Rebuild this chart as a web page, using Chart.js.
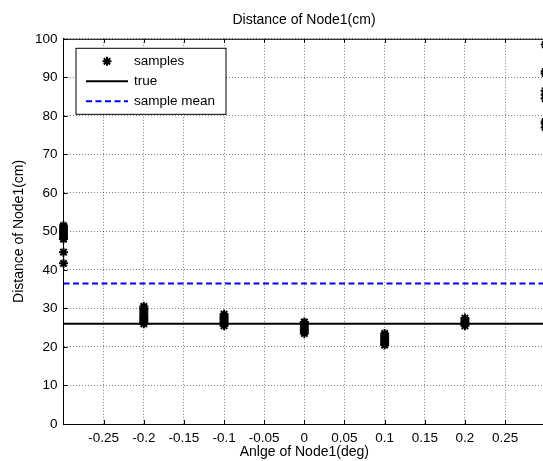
<!DOCTYPE html>
<html><head><meta charset="utf-8">
<script src="https://cdn.jsdelivr.net/npm/chart.js@4.4.1/dist/chart.umd.min.js"></script>
<style>
html,body{margin:0;padding:0;background:#fff;overflow:hidden;width:543px;height:461px;}
#wrap{position:absolute;left:0;top:0;width:608px;height:461px;}
canvas{display:block;}
</style></head><body>
<div id="wrap"><canvas id="c" width="608" height="461"></canvas></div>
<script>
const chartTitle = 'Distance of Node1(cm)';
const xTitle = 'Anlge of Node1(deg)';
const yTitle = 'Distance of Node1(cm)';
const legendLabels = ['samples', 'true', 'sample mean'];

const angles = [-0.3, -0.2, -0.1, 0, 0.1, 0.2, 0.3];
const samplesAtM03 = [51.5, 51, 50.5, 50, 49.5, 49, 48.5, 48, 44.6, 41.7];
const samplesAtM02 = [30.5, 30, 29.5, 29, 28.5, 28, 27.5, 27, 26.5, 26];
const samplesAtM01 = [28.5, 28, 27.5, 27, 26.5, 26, 25.5];
const samplesAt0   = [26.5, 26, 25.5, 25, 24.5, 24, 23.5];
const samplesAtP01 = [23.5, 23, 22.5, 22, 21.5, 21, 20.5];
const samplesAtP02 = [27.5, 27, 26.5, 26, 25.5];
const samplesAtP03 = [98.5, 91.5, 91, 86.5, 85.5, 84.5, 78.5, 78, 77];

const trueDistance = 26;
const sampleMean = 36.5;

const xRange = [-0.3, 0.3];
const yRange = [0, 100];
const xTickValues = [-0.25, -0.2, -0.15, -0.1, -0.05, 0, 0.05, 0.1, 0.15, 0.2, 0.25];
const xTickLabels = ['-0.25', '-0.2', '-0.15', '-0.1', '-0.05', '0', '0.05', '0.1', '0.15', '0.2', '0.25'];
const yTickValues = [0, 10, 20, 30, 40, 50, 60, 70, 80, 90, 100];
const yTickLabels = ['0', '10', '20', '30', '40', '50', '60', '70', '80', '90', '100'];

const sampleGroups = [samplesAtM03, samplesAtM02, samplesAtM01, samplesAt0, samplesAtP01, samplesAtP02, samplesAtP03];
const samplePoints = [];
sampleGroups.forEach((g, i) => g.forEach(v => samplePoints.push({x: angles[i], y: v})));

const FONT = "'Liberation Sans', Arial, Helvetica, sans-serif";

const frameAndLegend = {
  id: 'frameAndLegend',
  afterDatasetsDraw(chart) {
    const {ctx, chartArea: a, scales} = chart;
    const xs = scales.x, ys = scales.y;
    ctx.save();
    ctx.strokeStyle = '#000';
    ctx.lineWidth = 1;
    ctx.beginPath();
    ctx.moveTo(a.left, a.top + 0.5); ctx.lineTo(a.right, a.top + 0.5);
    const tl = 4;
    xTickValues.forEach(v => {
      const px = Math.round(xs.getPixelForValue(v)) + 0.5;
      ctx.moveTo(px, a.bottom); ctx.lineTo(px, a.bottom - tl);
      ctx.moveTo(px, a.top); ctx.lineTo(px, a.top + tl);
    });
    yTickValues.forEach(v => {
      const py = Math.round(ys.getPixelForValue(v)) + 0.5;
      ctx.moveTo(a.left, py); ctx.lineTo(a.left + tl, py);
    });
    ctx.stroke();

    // legend box
    const bx = a.left + 12.5, by = a.top + 9.5, bw = 150, bh = 66;
    ctx.fillStyle = '#fff';
    ctx.fillRect(bx, by, bw, bh);
    ctx.strokeStyle = '#000';
    ctx.lineWidth = 1;
    ctx.strokeRect(bx, by, bw, bh);
    const ds = chart.data.datasets;
    const rowY = [by + 13, by + 33, by + 53];
    const lx1 = bx + 10, lx2 = bx + 52, tx = bx + 58;
    ctx.font = '13.5px ' + FONT;
    ctx.textBaseline = 'middle';
    ctx.textAlign = 'left';
    ds.forEach((d, i) => {
      const y = rowY[i];
      if (i === 0) {
        ctx.strokeStyle = d.borderColor;
        ctx.fillStyle = d.borderColor;
        ctx.lineWidth = d.borderWidth;
        Chart.helpers.drawPoint(ctx, {pointStyle: d.pointStyle, radius: d.pointRadius, borderWidth: d.borderWidth, rotation: 0}, (lx1 + lx2) / 2, y);
      } else {
        ctx.strokeStyle = d.borderColor;
        ctx.lineWidth = d.borderWidth;
        ctx.setLineDash(d.borderDash || []);
        ctx.beginPath();
        ctx.moveTo(lx1, y); ctx.lineTo(lx2, y);
        ctx.stroke();
        ctx.setLineDash([]);
      }
      ctx.fillStyle = '#000';
      ctx.fillText(d.label, tx, y);
    });
    ctx.restore();
  }
};

new Chart(document.getElementById('c'), {
  type: 'scatter',
  data: {
    datasets: [
      {
        label: legendLabels[0],
        data: samplePoints,
        pointStyle: 'star',
        pointRadius: 4.5,
        pointHoverRadius: 4.5,
        borderColor: '#000',
        backgroundColor: '#000',
        borderWidth: 2,
        clip: false,
        order: 3
      },
      {
        label: legendLabels[1],
        type: 'line',
        data: [{x: xRange[0], y: trueDistance}, {x: xRange[1], y: trueDistance}],
        showLine: true,
        borderColor: '#000',
        borderWidth: 2,
        pointRadius: 0,
        order: 2
      },
      {
        label: legendLabels[2],
        type: 'line',
        data: [{x: xRange[0], y: sampleMean}, {x: xRange[1], y: sampleMean}],
        showLine: true,
        borderColor: '#0000ff',
        borderWidth: 2,
        borderDash: [6, 3.5],
        pointRadius: 0,
        order: 1
      }
    ]
  },
  options: {
    responsive: false,
    animation: false,
    devicePixelRatio: 1,
    layout: {padding: 0},
    plugins: {
      legend: {display: false},
      tooltip: {enabled: false},
      title: {
        display: true,
        text: chartTitle,
        color: '#000',
        font: {family: FONT, size: 14, weight: 'normal'},
        padding: {top: 12, bottom: 10}
      }
    },
    scales: {
      x: {
        type: 'linear',
        position: 'bottom',
        min: xRange[0],
        max: xRange[1],
        afterBuildTicks(s) { s.ticks = xTickValues.map(v => ({value: v})); },
        afterFit(s) { s.height = 37; },
        ticks: {
          color: '#000',
          font: {family: FONT, size: 13.5},
          padding: 6,
          autoSkip: false,
          maxRotation: 0,
          callback: (v, i) => xTickLabels[i]
        },
        grid: {color: 'rgba(0,0,0,0.5)', lineWidth: 1, drawTicks: false},
        border: {display: true, color: '#000', width: 1, dash: [1, 2]},
        title: {
          display: true,
          text: xTitle,
          color: '#000',
          font: {family: FONT, size: 14},
          padding: {top: 0, bottom: 0}
        }
      },
      y: {
        type: 'linear',
        position: 'left',
        min: yRange[0],
        max: yRange[1],
        afterBuildTicks(s) { s.ticks = yTickValues.map(v => ({value: v})); },
        afterFit(s) { s.width = 63.5; },
        ticks: {
          color: '#000',
          font: {family: FONT, size: 13.5},
          padding: 6,
          autoSkip: false,
          callback: (v, i) => yTickLabels[i]
        },
        grid: {color: 'rgba(0,0,0,0.5)', lineWidth: 1, drawTicks: false},
        border: {display: true, color: '#000', width: 1, dash: [1, 2]},
        title: {
          display: true,
          text: yTitle,
          color: '#000',
          font: {family: FONT, size: 14},
          padding: {top: 11, bottom: 0}
        }
      },
      yR: {
        type: 'linear',
        position: 'right',
        min: 0, max: 1,
        afterFit(s) { s.width = 608 - 545.2; },
        ticks: {display: false},
        grid: {display: false, drawTicks: false},
        border: {display: false}
      }
    }
  },
  plugins: [frameAndLegend]
});
</script>
</body></html>
